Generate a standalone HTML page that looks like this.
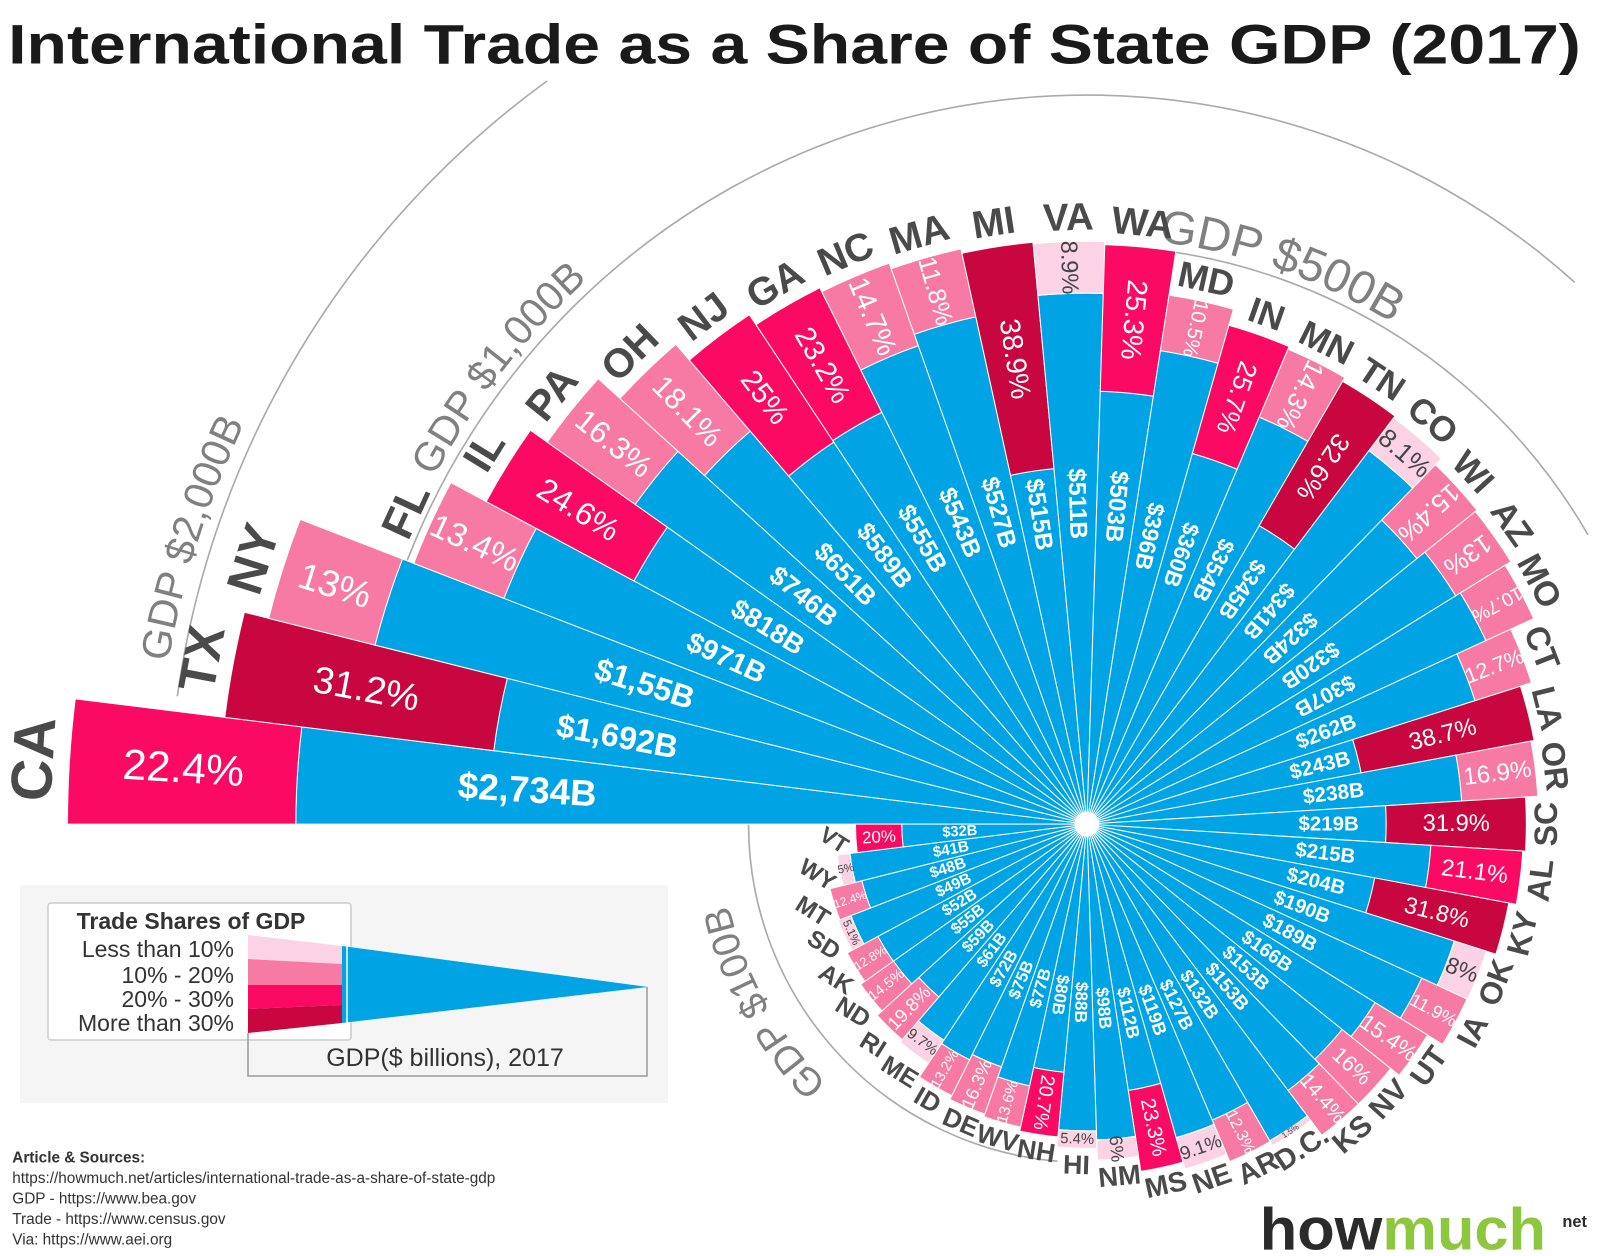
<!DOCTYPE html>
<html><head><meta charset="utf-8">
<style>
html,body{margin:0;padding:0;background:#fff;}
svg{display:block;font-family:"Liberation Sans",sans-serif;}
</style></head>
<body>
<svg id="chart" width="1600" height="1256" viewBox="0 0 1600 1256" xmlns="http://www.w3.org/2000/svg">
<g transform="scale(1.0225)">
<text x="8" y="62" font-size="54" font-weight="bold" fill="#1a1a1a" textLength="1538" lengthAdjust="spacingAndGlyphs">International Trade as a Share of State GDP (2017)</text>
<g id="arcs"></g>
<g id="wedges"></g>
<g id="labels"></g>
<circle cx="1063" cy="806" r="12" fill="#fff"/>
<g font-size="15" fill="#333">
<text x="12" y="1137" font-weight="bold">Article &amp; Sources:</text>
<text x="12" y="1157">https://howmuch.net/articles/international-trade-as-a-share-of-state-gdp</text>
<text x="12" y="1177">GDP - https://www.bea.gov</text>
<text x="12" y="1197">Trade - https://www.census.gov</text>
<text x="12" y="1217">Via: https://www.aei.org</text>
</g>
<g>
<text x="1232" y="1222" font-size="58" font-weight="bold" fill="#2b2b2b" textLength="120" lengthAdjust="spacingAndGlyphs">how</text>
<text x="1352" y="1222" font-size="58" font-weight="bold" fill="#8dc63f" textLength="160" lengthAdjust="spacingAndGlyphs">much</text>
<text x="1528" y="1200" font-size="16" font-weight="bold" fill="#2b2b2b">net</text>
</g>
</g>

<g>
<rect x="20" y="885" width="648" height="218" fill="#f5f5f5"/>
<rect x="48" y="903" width="303" height="137" fill="#fff" stroke="#ccc" stroke-width="1.5" rx="3"/>
<text x="191" y="929" font-size="23" font-weight="bold" fill="#333" text-anchor="middle">Trade Shares of GDP</text>
<text x="234" y="957" font-size="23" fill="#333" text-anchor="end">Less than 10%</text>
<text x="234" y="983" font-size="23" fill="#333" text-anchor="end">10% - 20%</text>
<text x="234" y="1007" font-size="23" fill="#333" text-anchor="end">20% - 30%</text>
<text x="234" y="1031" font-size="23" fill="#333" text-anchor="end">More than 30%</text>
<polygon points="248,935 342,946 342,964 248,959" fill="#fbd3e4"/>
<polygon points="248,959 342,964 342,985 248,985" fill="#f77aa5"/>
<polygon points="248,985 342,985 342,1005 248,1009" fill="#fb0a63"/>
<polygon points="248,1009 342,1005 342,1023 248,1033" fill="#c8063f"/>
<polygon points="342,946 648,987 342,1023" fill="#00a3e3"/>
<line x1="347" y1="946" x2="347" y2="1023" stroke="#fff" stroke-width="1.5"/>
<polyline points="248,1033 248,1076 647,1076 647,987" fill="none" stroke="#999" stroke-width="1.5"/>
<text x="445" y="1066" font-size="25" fill="#333" text-anchor="middle">GDP($ billions), 2017</text>
</g>
</svg>
<script>
const states = ["CA","TX","NY","FL","IL","PA","OH","NJ","GA","NC","MA","MI","VA","WA","MD","IN","MN","TN","CO","WI","AZ","MO","CT","LA","OR","SC","AL","KY","OK","IA","UT","NV","KS","D.C.","AR","NE","MS","NM","HI","NH","WV","DE","ID","ME","RI","ND","AK","SD","MT","WY","VT"];
const gdp = [2734,1692,1550,971,818,746,651,589,555,543,527,515,511,503,396,360,354,345,341,324,320,307,262,243,238,219,215,204,190,189,166,153,153,132,127,119,112,98,88,80,77,75,72,61,59,55,52,49,48,41,32];
const gdpLabels = ["$2,734B","$1,692B","$1,55B","$971B","$818B","$746B","$651B","$589B","$555B","$543B","$527B","$515B","$511B","$503B","$396B","$360B","$354B","$345B","$341B","$324B","$320B","$307B","$262B","$243B","$238B","$219B","$215B","$204B","$190B","$189B","$166B","$153B","$153B","$132B","$127B","$119B","$112B","$98B","$88B","$80B","$77B","$75B","$72B","$61B","$59B","$55B","$52B","$49B","$48B","$41B","$32B"];
const tradeShare = [22.4,31.2,13,13.4,24.6,16.3,18.1,25,23.2,14.7,11.8,38.9,8.9,25.3,10.5,25.7,14.3,32.6,8.1,15.4,13,10.7,12.7,38.7,16.9,31.9,21.1,31.8,8,11.9,15.4,16,14.4,1.5,12.3,9.1,23.3,6,5.4,20.7,13.6,16.3,13.2,9.7,19.8,14.5,12.8,5.1,12.4,5,20];
const arcValues = [2000,1000,500,100];
const arcTexts = ["GDP $2,000B","GDP $1,000B","GDP $500B","GDP $100B"];

const NS="http://www.w3.org/2000/svg";
const CX=1063, CY=806, K=71.3;
const STEP=360/states.length;
const rScale = v => K*Math.cbrt(v);
const rad = d => d*Math.PI/180;
const pt = (r,deg)=>[CX+r*Math.cos(rad(deg)), CY+r*Math.sin(rad(deg))];
function colorFor(p){ if(p<10) return "#fbd3e4"; if(p<20) return "#f77aa5"; if(p<30) return "#fb0a63"; return "#c8063f"; }
function sector(r0,r1,a0,a1){
  const [x0,y0]=pt(r1,a0),[x1,y1]=pt(r1,a1),[x2,y2]=pt(r0,a1),[x3,y3]=pt(r0,a0);
  return `M${x0},${y0} A${r1},${r1} 0 0 1 ${x1},${y1} L${x2},${y2} A${r0},${r0} 0 0 0 ${x3},${y3} Z`;
}
function mk(tag,attrs,parent){const e=document.createElementNS(NS,tag);for(const k in attrs)e.setAttribute(k,attrs[k]);parent.appendChild(e);return e;}
const wedges=document.getElementById('wedges'), labels=document.getElementById('labels'), arcs=document.getElementById('arcs');

const arcSpans=[[188,234],[200,312],[276,330],[95,182]];
const textSpans=[[190,226,14],[208,234,10],[277,312,8],[135,178,28]];
const arcFs=[40,40,46,38];
arcValues.forEach((v,i)=>{
  const r=rScale(v);
  const [a0,a1]=arcSpans[i];
  const [x0,y0]=pt(r,a0),[x1,y1]=pt(r,a1);
  const p=mk('path',{d:`M${x0},${y0} A${r},${r} 0 0 1 ${x1},${y1}`,fill:'none',stroke:'#aaa','stroke-width':1.6},arcs);
  
  
  const [t0,t1,off]=textSpans[i];
  const rt=r+off;
  const [u0,v0]=pt(rt,t0),[u1,v1]=pt(rt,t1);
  mk('path',{id:'tp'+i,d:`M${u0},${v0} A${rt},${rt} 0 0 1 ${u1},${v1}`,fill:'none'},arcs);
  const t=mk('text',{'font-size':arcFs[i],fill:'#808080'},arcs);
  
  
  const tp=mk('textPath',{href:'#tp'+i},t);
  tp.textContent=arcTexts[i];
});

states.forEach((s,i)=>{
  const a0=180+i*STEP, a1=a0+STEP, am=(a0+a1)/2;
  const r=rScale(gdp[i]);
  const p=tradeShare[i];
  const ri=r*(1-p/100);
  const key=s.toLowerCase().replace('.','');
  const b=mk('path',{d:sector(0,ri,a0,a1),fill:'#00a3e3',stroke:'#fff','stroke-width':1},wedges);
  
  
  const pk=mk('path',{d:sector(ri,r,a0,a1),fill:colorFor(p),stroke:'#fff','stroke-width':1},wedges);
  
  

  let n=((am%360)+360)%360;
  const radialRot = (n>=100 && n<335) ? n-180 : n;
  const tangRot = (n>=180) ? n+90 : n-90;
  const boxLen=r-ri;
  const rm=(r+ri)/2;
  const wWidth=rm*rad(STEP);
  const pl=(p+'%');
  const fs0=9+r*0.033;
  let fs=Math.min(fs0, boxLen/(pl.length*0.55));
  let rot=radialRot;
  if(fs<fs0*0.75){
    const fsT=Math.min(fs0, wWidth/(pl.length*0.56), boxLen*0.85);
    if(fsT>fs){ fs=fsT; rot=tangRot; }
  }
  fs=Math.max(fs,8);
  const [px,py]=pt(rm,am);
  const tp=mk('text',{x:px,y:py,'font-size':fs,fill:p<10?'#444':'#fff','text-anchor':'middle','dominant-baseline':'central',transform:`rotate(${rot} ${px} ${py})`},labels);
  tp.textContent=pl;
  
  
  const gfs=8+r*0.028;
  const glen=gdpLabels[i].length*gfs*0.58;
  const gr=Math.max(Math.min(r*0.55, ri-glen/2-8), glen/2+20);
  const [gx,gy]=pt(gr,am);
  const tg=mk('text',{x:gx,y:gy,'font-size':gfs,fill:'#fff','font-weight':'bold','text-anchor':'middle','dominant-baseline':'central',transform:`rotate(${radialRot} ${gx} ${gy})`},labels);
  tg.textContent=gdpLabels[i];
  
  
  const nfs=12+r*0.045;
  let nRot = tangRot;
  let off=nfs*0.62;
  if(n>=125 && n<180){ nRot=32; off=nfs*0.95; }
  const [nx,ny]=pt(r+off,am);
  const tn=mk('text',{x:nx,y:ny,'font-size':nfs,'font-weight':'bold',fill:'#4a4a4a','text-anchor':'middle','dominant-baseline':'central',transform:`rotate(${nRot} ${nx} ${ny})`},labels);
  tn.textContent=s;
  
  
});
</script>
</body></html>
